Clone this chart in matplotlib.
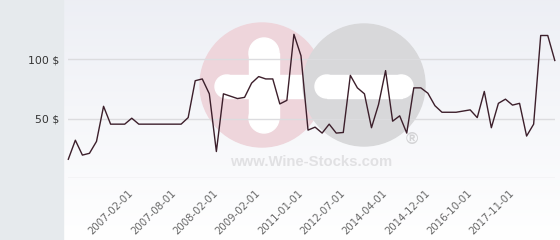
import numpy as np
import matplotlib
matplotlib.use("Agg")
import matplotlib.pyplot as plt
from matplotlib.patches import Circle, Rectangle

# ---- data ----
prices = [16, 32, 19.5, 21, 31, 60.5, 45.5, 45.5, 45.5, 50.5,
          45.5, 45.5, 45.5, 45.5, 45.5, 45.5, 45.5, 51, 82, 83.5,
          71, 22.5, 71, 69, 67, 68, 80, 85.5, 83.5, 83.5,
          62.5, 65.5, 121, 103, 40.5, 43, 38, 45.5, 38, 38.5,
          86.5, 76, 71, 42.5, 62, 90.5, 48, 52.5, 38, 76,
          76, 71.5, 61, 55.5, 55.5, 55.5, 56.5, 57.5, 51, 73,
          42.5, 63, 66.5, 61.5, 63, 35.5, 45.5, 120, 120, 99]
tick_labels = ["2007-02-01", "2007-08-01", "2008-02-01", "2009-02-01",
               "2011-01-01", "2012-07-01", "2014-04-01", "2014-12-01",
               "2016-10-01", "2017-11-01"]
first_tick, tick_step = 9, 6
y_ticks = [0, 50, 100]
y_tick_labels = ["", "50 $", "100 $"]

W, H = 560, 240
fig = plt.figure(figsize=(W / 100, H / 100), dpi=100)

# ---- background layer (pixel coordinates) ----
bg = fig.add_axes([0, 0, 1, 1])
bg.set_xlim(0, W)
bg.set_ylim(H, 0)
bg.axis("off")
grad = np.linspace(0, 1, 256).reshape(-1, 1)
top = np.array([0.93, 0.937, 0.96])
bot = np.array([1.0, 1.0, 1.0])
img = top[None, None, :] * (1 - grad[:, :, None]) + bot[None, None, :] * grad[:, :, None]
bg.imshow(img, extent=(63.3, W, H, 0), aspect="auto", zorder=0)
bg.add_patch(Rectangle((0, 0), 63.3, H, color="#e6eaed", zorder=1))

# watermark
bg.add_patch(Circle((262, 85), 62, color="#eed5db", zorder=2))
bg.add_patch(Circle((264, 53), 15, color="white", zorder=3))
bg.add_patch(Circle((264, 118), 15, color="white", zorder=3))
bg.add_patch(Rectangle((249, 53), 30, 65, color="white", zorder=3))
bg.add_patch(Rectangle((226.5, 75), 80, 23, color="white", zorder=3))
bg.add_patch(Circle((226.5, 86.5), 11.5, color="white", zorder=3))
bg.add_patch(Circle((364, 85), 61, color="#d8d8da", zorder=4))
bg.add_patch(Rectangle((326.5, 75), 75, 23, color="white", zorder=5))
bg.add_patch(Circle((326.5, 86.5), 11.5, color="white", zorder=5))
bg.add_patch(Circle((401.5, 86.5), 11.5, color="white", zorder=5))
bg.text(311.5, 161.5, "www.Wine-Stocks.com", ha="center", va="center",
        fontsize=10.7, fontweight="bold", family="Liberation Sans", color="#e1e1e3", zorder=6)
bg.text(412, 139, "®", ha="center", va="center", fontsize=12, fontweight="bold",
        family="Liberation Sans", color="#d3d3d5", zorder=6)

# ---- main chart ----
x0, x1, ybase = 68.3, 554.8, 178.3
ax = fig.add_axes([x0 / W, 1 - ybase / H, (x1 - x0) / W, ybase / H])
ax.patch.set_alpha(0)
ax.set_xlim(0, len(prices) - 1)
ax.set_ylim(0, ybase / 1.19)
for s in ax.spines.values():
    s.set_visible(False)
ax.set_yticks(y_ticks)
ax.set_yticklabels(y_tick_labels, fontsize=7.8, color="#333333")
ax.yaxis.grid(True, color="#dcdcdf", linewidth=1)
ax.tick_params(axis="y", length=0, pad=6.5)
xt = list(range(first_tick, first_tick + tick_step * len(tick_labels), tick_step))
ax.set_xticks(xt)
ax.set_xticklabels(tick_labels, rotation=45, ha="right", va="center",
                   rotation_mode="anchor", fontsize=7.3, color="#666666")
ax.tick_params(axis="x", length=0, pad=9.5)
ax.plot(range(len(prices)), prices, color="#3c1f2b", linewidth=1.0, clip_on=False, zorder=3)

fig.savefig("out.png", dpi=100)
